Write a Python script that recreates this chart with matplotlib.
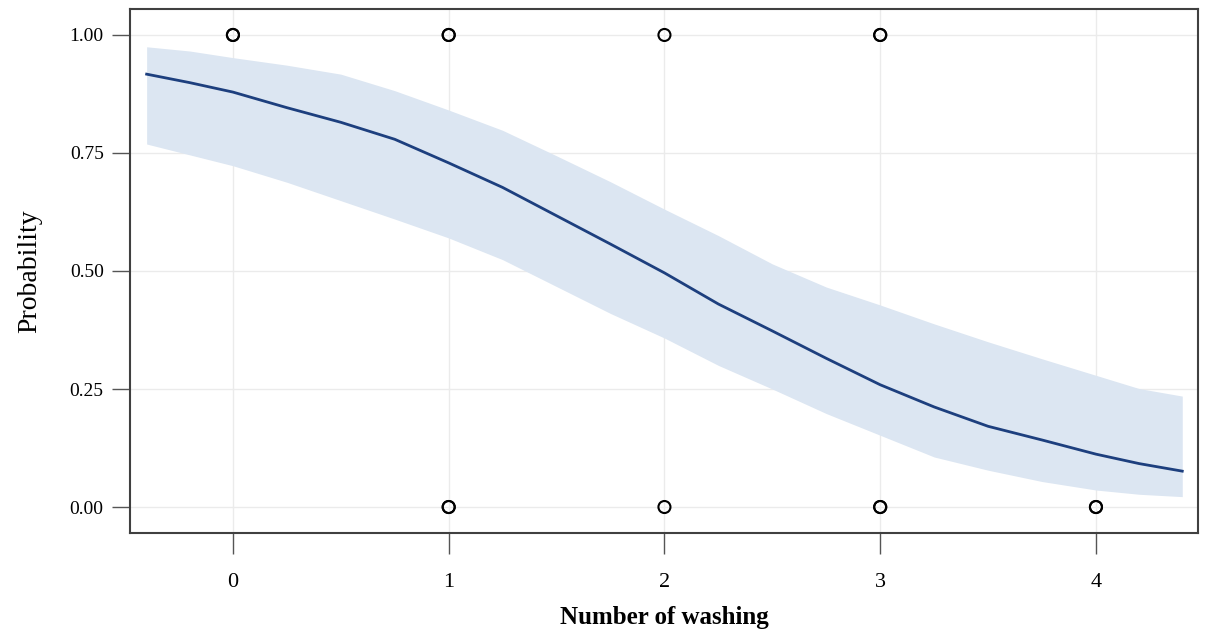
import numpy as np
import matplotlib
matplotlib.use("Agg")
import matplotlib.pyplot as plt

plt.rcParams['font.family'] = ['Liberation Serif', 'DejaVu Serif']

# fitted curve and confidence band
washing = [-0.4, -0.2, 0.0, 0.25, 0.5, 0.75, 1.0, 1.25, 1.5, 1.75, 2.0, 2.25,
           2.5, 2.75, 3.0, 3.25, 3.5, 3.75, 4.0, 4.2, 4.4]
prob = [0.917, 0.899, 0.879, 0.846, 0.815, 0.779, 0.729, 0.677, 0.617, 0.557,
        0.496, 0.430, 0.373, 0.315, 0.259, 0.212, 0.171, 0.142, 0.112, 0.092, 0.076]
upper = [0.975, 0.966, 0.952, 0.936, 0.917, 0.882, 0.841, 0.798, 0.744, 0.689,
         0.631, 0.575, 0.515, 0.466, 0.428, 0.388, 0.350, 0.314, 0.279, 0.251, 0.235]
lower = [0.769, 0.746, 0.723, 0.688, 0.649, 0.610, 0.570, 0.524, 0.467, 0.410,
         0.358, 0.300, 0.250, 0.198, 0.152, 0.106, 0.078, 0.054, 0.036, 0.027, 0.022]

# observed outcomes (repeats drawn twice)
obs_x = [0, 0, 1, 1, 2, 3, 3, 1, 1, 2, 3, 3, 4, 4]
obs_y = [1, 1, 1, 1, 1, 1, 1, 0, 0, 0, 0, 0, 0, 0]

fig = plt.figure(figsize=(12.05, 6.3), dpi=100)
ax = fig.add_axes([0.1079, 0.154, 0.8863, 0.8317])

ax.fill_between(washing, lower, upper, color='#dce6f2', linewidth=0, zorder=1)
ax.plot(washing, prob, color='#1d3f7e', linewidth=2, zorder=2)
ax.scatter(obs_x, obs_y, s=75, facecolors='none', edgecolors='black',
           linewidths=1.5, zorder=3)

ax.set_xlim(-0.477, 4.473)
ax.set_ylim(-0.055, 1.055)
ax.set_xticks([0, 1, 2, 3, 4])
ax.set_yticks([0, 0.25, 0.5, 0.75, 1.0])
ax.set_yticklabels(['0.00', '0.25', '0.50', '0.75', '1.00'])
ax.grid(True, color='#ebebeb', linewidth=1, zorder=0)
ax.set_axisbelow(True)

for s in ax.spines.values():
    s.set_color('#404040')
    s.set_linewidth(1.5)
ax.tick_params(axis='x', length=15, width=1, color='#555555', labelsize=16, pad=14)
ax.tick_params(axis='y', length=13, width=1, color='#555555', labelsize=14, pad=6)

ax.set_xlabel('Number of washing', fontsize=18, fontweight='bold', labelpad=10)
ax.set_ylabel('Probability', fontsize=20, labelpad=20)

fig.savefig('out.png', dpi=100)
